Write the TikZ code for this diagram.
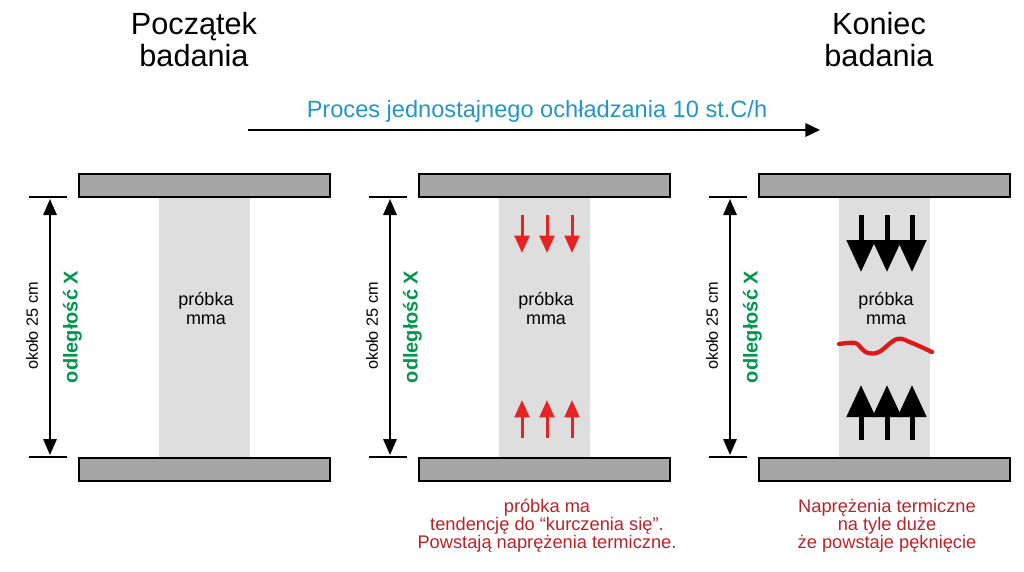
\documentclass[tikz,border=0pt]{standalone}
\usepackage{fontspec}
\setmainfont{Liberation Sans}
\usetikzlibrary{arrows.meta, positioning, calc}
\definecolor{plategray}{RGB}{166,166,166}
\definecolor{samplegray}{RGB}{222,222,222}
\definecolor{procblue}{RGB}{35,150,195}
\definecolor{distgreen}{RGB}{0,150,75}
\definecolor{notered}{RGB}{185,35,40}
\definecolor{forcered}{RGB}{230,35,35}
\definecolor{crackred}{RGB}{220,25,25}

\begin{document}
\begin{tikzpicture}[x=0.75pt, y=-0.75pt,
    plate/.style={draw, line width=1.5pt, fill=plategray, minimum width=188.25pt, minimum height=17.25pt, inner sep=0pt},
    sample/.style={fill=samplegray, minimum width=68.25pt, minimum height=196pt, inner sep=0pt},
    tickline/.style={line width=1.5pt},
    dimline/.style={line width=1.5pt, {Triangle[length=12pt, width=10pt]}-{Triangle[length=12pt, width=10pt]}},
    dimtext/.style={rotate=90, font=\fontsize{12.2pt}{14pt}\selectfont},
    disttext/.style={rotate=90, text=distgreen, font=\bfseries\fontsize{15pt}{17pt}\selectfont},
    label/.style={align=center, anchor=north, inner sep=0pt, font=\fontsize{13.5pt}{14.25pt}\selectfont},
    title/.style={align=center, anchor=north, inner sep=0pt, font=\fontsize{23pt}{24pt}\selectfont},
    note/.style={align=center, anchor=north, inner sep=0pt, text=notered, font=\fontsize{13.7pt}{13.7pt}\selectfont},
    smallforce/.style={line width=2.25pt, forcered, -{Triangle[length=13pt, width=11pt]}},
    bigforce/.style={line width=3.75pt, black, -{Triangle[length=24pt, width=21pt]}},
    crack/.style={line width=3.2pt, crackred, line cap=round}]

    \useasboundingbox (0,0) rectangle (1024,571);

    % titles and process arrow
    \node[title] (tstart) at (194,12) {Początek\\badania};
    \node[title] (tend) at (879,12) {Koniec\\badania};
    \coordinate (pstart) at (248,130);
    \coordinate (pend) at (820,130);
    \draw[line width=1.9pt, -{Triangle[length=11pt, width=10pt]}] (pstart) -- (pend);
    \node[anchor=base, text=procblue, font=\fontsize{17.7pt}{20pt}\selectfont] (proc) at (537,117) {Proces jednostajnego ochładzania 10 st.C/h};

    % panel 1: start
    \node[sample] (s1) at (204.5,327.5) {};
    \node[plate] (top1) at (204.5,185.5) {};
    \node[plate] (bot1) at (204.5,469.5) {};
    \node[label] (lab1) at (206,292) {próbka\\mma};
    \draw[tickline] (29,197) -- (67,197);
    \draw[tickline] (29,457) -- (67,457);
    \coordinate (d1t) at (50,199);
    \coordinate (d1b) at (50,455);
    \draw[dimline] (d1t) -- (d1b);
    \node[dimtext] (cm1) at (32,326) {około 25 cm};
    \node[disttext] (x1) at (72.5,327) {odległość X};

    % panel 2: shrinking
    \node[sample] (s2) at (544.5,327.5) {};
    \node[plate] (top2) at (544.5,185.5) {};
    \node[plate] (bot2) at (544.5,469.5) {};
    \node[label] (lab2) at (546,292) {próbka\\mma};
    \draw[tickline] (369,197) -- (407,197);
    \draw[tickline] (369,457) -- (407,457);
    \coordinate (d2t) at (390,199);
    \coordinate (d2b) at (390,455);
    \draw[dimline] (d2t) -- (d2b);
    \node[dimtext] (cm2) at (372,326) {około 25 cm};
    \node[disttext] (x2) at (412.5,327) {odległość X};
    \draw[smallforce] (522,215) -- (522,253);
    \draw[smallforce] (547,215) -- (547,253);
    \draw[smallforce] (572,215) -- (572,253);
    \draw[smallforce] (522,438) -- (522,400);
    \draw[smallforce] (547,438) -- (547,400);
    \draw[smallforce] (572,438) -- (572,400);
    \node[note] (note2) at (547,498.5) {próbka ma\\tendencję do “kurczenia się”.\\Powstają naprężenia termiczne.};

    % panel 3: end
    \node[sample] (s3) at (884.5,327.5) {};
    \node[plate] (top3) at (884.5,185.5) {};
    \node[plate] (bot3) at (884.5,469.5) {};
    \node[label] (lab3) at (886,292) {próbka\\mma};
    \draw[tickline] (709,197) -- (747,197);
    \draw[tickline] (709,457) -- (747,457);
    \coordinate (d3t) at (730,199);
    \coordinate (d3b) at (730,455);
    \draw[dimline] (d3t) -- (d3b);
    \node[dimtext] (cm3) at (712,326) {około 25 cm};
    \node[disttext] (x3) at (752.5,327) {odległość X};
    \draw[bigforce] (861,215) -- (861,272);
    \draw[bigforce] (887,215) -- (887,272);
    \draw[bigforce] (912,215) -- (912,272);
    \draw[bigforce] (861,440) -- (861,385);
    \draw[bigforce] (887,440) -- (887,385);
    \draw[bigforce] (912,440) -- (912,385);
    \draw[crack] plot[smooth, tension=0.6] coordinates {(839,344) (855,343) (862,349) (868,353) (879,352) (897,339) (912,343) (932,352)};
    \node[note] (note3) at (887,498.5) {Naprężenia termiczne\\na tyle duże\\że powstaje pęknięcie};
\end{tikzpicture}
\end{document}
